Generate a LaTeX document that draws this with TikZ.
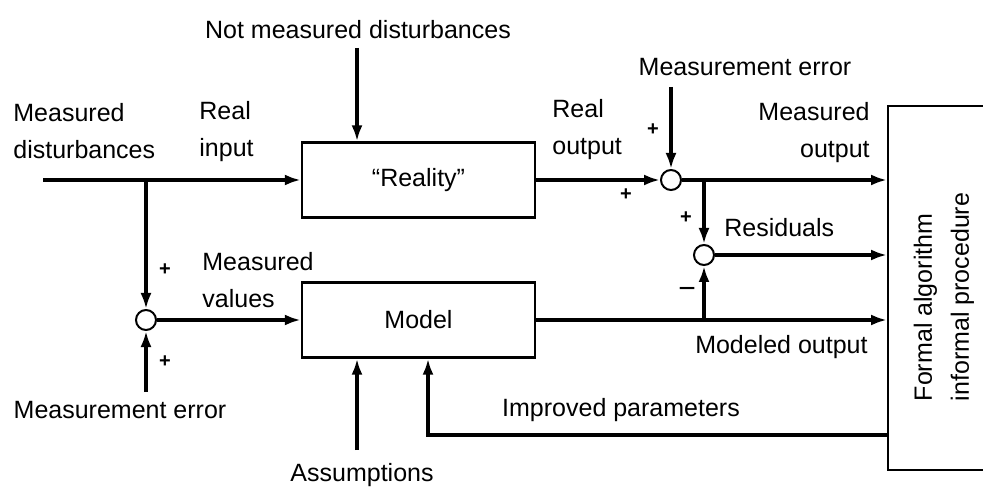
\documentclass[tikz,border=0pt]{standalone}
\usepackage{fontspec}
\setmainfont{Liberation Sans}
\usetikzlibrary{arrows.meta}
\tikzset{
  block/.style={draw, line width=1.2pt, minimum width=116.5pt, minimum height=37.5pt, font=\fontsize{12.5}{18.5}\selectfont},
  sum/.style={draw, circle, fill=white, line width=1pt, minimum size=10pt, inner sep=0pt},
  sig/.style={line width=2pt, -{Latex[length=8pt,width=5.5pt]}},
  txt/.style={font=\fontsize{12.5}{18.5}\selectfont, inner sep=0pt},
  sign/.style={font=\fontsize{10}{12}\selectfont\bfseries, inner sep=0pt},
}
\begin{document}
\begin{tikzpicture}[x=0.5pt,y=-0.5pt]
\useasboundingbox (0,0) rectangle (983,491);
\node[block] (reality) at (418.5,180) {“Reality”};
\node[block] (model) at (418.5,320) {Model};
\node[draw, line width=1pt, minimum width=70pt, minimum height=182pt] (algo) at (958,288) {};
\node[sum] (sumin) at (146,320) {};
\node[sum] (sumout) at (671,180) {};
\node[sum] (sumres) at (704,255) {};
\coordinate (start) at (43,180);
\coordinate (b1) at (146,180);
\coordinate (merr1) at (146,392);
\coordinate (nm) at (357,48);
\coordinate (as) at (357,450);
\coordinate (merr2) at (671,87);
\coordinate (b2) at (704,180);
\coordinate (b3) at (704,320);
\coordinate (ip) at (428,435);

% labels
\node[txt, align=left, anchor=west] (mdist) at (13,131.5) {Measured\\disturbances};
\node[txt, align=left, anchor=west] (rin) at (199,131.5) {Real\\input};
\node[txt] (nmd) at (358,30) {Not measured disturbances};
\node[txt, align=left, anchor=west] (rout) at (552,130) {Real\\output};
\node[txt] (me2) at (745,67) {Measurement error};
\node[txt, align=right, anchor=east] (mout) at (870,133) {Measured\\output};
\node[txt, anchor=west] (res) at (724,228) {Residuals};
\node[txt, align=left, anchor=west] (mval) at (202,280) {Measured\\values};
\node[txt] (me1) at (120,410) {Measurement error};
\node[txt] (assum) at (362,475) {Assumptions};
\node[txt] (impr) at (621,410) {Improved parameters};
\node[txt, anchor=east] (modout) at (868,347) {Modeled output};
\node[txt, align=left, rotate=90] (proc) at (944,297) {Formal algorithm\\informal procedure};
\node[sign] (p1) at (165,270) {+};
\node[sign] (p2) at (165,362) {+};
\node[sign] (p3) at (653,130) {+};
\node[sign] (p4) at (626,195) {+};
\node[sign] (p5) at (686,218) {+};
\node[font=\fontsize{15}{15}\selectfont, inner sep=0pt] (m1) at (687,293) {−};

% connectors
\path[draw,sig] (start) -- (reality);
\path[draw,sig] (nm) -- (nm |- reality.north);
\path[draw,sig] (b1) -- (sumin);
\path[draw,sig] (merr1) -- (sumin);
\path[draw,sig] (sumin) -- (model);
\path[draw,sig] (as) -- (as |- model.south);
\path[draw,sig] (reality) -- (sumout);
\path[draw,sig] (merr2) -- (sumout);
\path[draw,sig] (sumout) -- (sumout -| algo.west);
\path[draw,sig] (b2) -- (sumres);
\path[draw,sig] (sumres) -- (sumres -| algo.west);
\path[draw,sig] (model) -- (model -| algo.west);
\path[draw,sig] (b3) -- (sumres);
\path[draw,sig] (ip -| algo.west) -- (ip) -- (ip |- model.south);
\end{tikzpicture}
\end{document}
